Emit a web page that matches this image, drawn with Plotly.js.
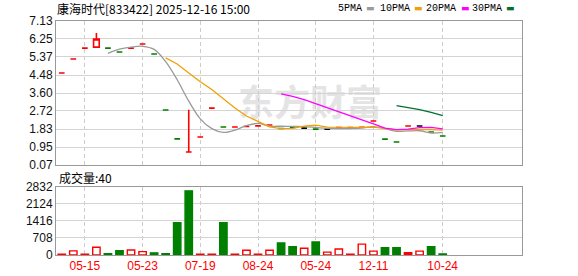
<!DOCTYPE html>
<html><head><meta charset="utf-8">
<script src="https://cdn.plot.ly/plotly-3.0.1.min.js"></script>
<style>html,body{margin:0;padding:0;background:#fff}#chart{width:578px;height:276px}</style>
</head><body><div id="chart"></div>
<script>
// ---------------- data ----------------
const titleText = '康海时代[833422] 2025-12-16 15:00';
const tickIdx = [2, 7, 12, 17, 22, 27, 33];
const tickLabels = ['05-15', '05-23', '07-19', '08-24', '05-24', '12-11', '10-24'];
const priceTickLabels = ['0.07', '0.95', '1.83', '2.72', '3.60', '4.48', '5.37', '6.25', '7.13'];
const volTickLabels = ['0', '708', '1416', '2124', '2832'];

const openP  = [4.58,5.27,5.80,5.85,5.80,5.61,5.80,6.00,5.51,2.77,1.35,0.71,1.44,2.86,1.93,1.93,1.96,1.99,2.03,1.86,1.91,1.88,1.83,1.83,1.91,1.91,1.92,2.23,1.34,1.20,1.98,1.98,1.69,1.49];
const highP  = [4.58,5.27,5.80,6.54,5.80,5.61,5.80,6.00,5.51,2.77,1.35,2.78,1.44,2.86,1.93,1.93,1.96,1.99,2.03,1.86,1.91,1.88,1.83,1.83,1.91,1.91,1.92,2.23,1.34,1.20,1.98,1.98,1.69,1.49];
const lowP   = [4.58,5.27,5.80,5.85,5.80,5.61,5.80,6.00,5.51,2.77,1.35,0.71,1.44,2.86,1.93,1.93,1.96,1.99,2.03,1.86,1.91,1.88,1.83,1.83,1.91,1.91,1.92,2.23,1.34,1.20,1.98,1.98,1.69,1.49];
const closeP = [4.58,5.27,5.80,6.25,5.80,5.61,5.80,6.00,5.51,2.77,1.35,0.71,1.44,2.86,1.93,1.93,1.96,1.99,2.03,1.86,1.91,1.88,1.83,1.83,1.91,1.91,1.92,2.23,1.34,1.20,1.98,1.98,1.69,1.49];
// u = up (red), d = down (green), f = flat (black)
const candleDir = ['u','u','u','u','d','d','u','u','d','d','d','u','u','u','d','u','u','u','u','d','d','f','d','f','u','u','u','u','d','d','u','f','d','d'];

const ma5  = [null,null,null,null,5.54,5.75,5.85,5.89,5.74,5.14,4.25,3.20,2.33,1.85,1.67,1.78,2.00,2.11,1.98,1.97,1.96,1.95,1.91,1.87,1.86,1.86,1.88,1.95,1.86,1.72,1.74,1.75,1.64,1.67];
const ma10 = [null,null,null,null,null,null,null,null,null,5.32,5.02,4.58,4.15,3.77,3.30,2.86,2.47,2.22,1.94,1.85,1.87,1.98,2.02,1.93,1.92,1.91,1.91,1.93,1.87,1.79,1.80,1.81,1.80,1.78];
const ma20 = [null,null,null,null,null,null,null,null,null,null,null,null,null,null,null,null,null,null,null,3.56,3.44,3.27,3.07,2.85,2.66,2.47,2.28,2.09,1.88,1.80,1.83,1.90,1.91,1.84];
const ma30 = [null,null,null,null,null,null,null,null,null,null,null,null,null,null,null,null,null,null,null,null,null,null,null,null,null,null,null,null,null,2.98,2.89,2.79,2.65,2.49];

const volume = [35,170,35,320,50,180,210,140,90,50,1340,2660,35,35,1340,35,200,35,200,500,340,280,540,120,250,35,450,160,300,300,95,160,340,40];
// h = hollow red, g = green, r = filled red
const volKind = ['h','h','h','h','g','g','h','h','g','g','g','g','h','h','g','h','h','h','h','g','g','h','g','h','h','h','h','h','g','g','r','h','g','g'];

// ---------------- styles ----------------
const RED = '#ff0000', GREEN = '#008000', BLACK = '#000000';
const W = 578, H = 276, ML = 56, MR = 56, MT = 21, MB = 21;
const PW = W - ML - MR, PH = H - MT - MB;
const px = x => (x - ML) / PW;
const py = y => (H - MB - y) / PH;

const xs = closeP.map((_, i) => i);
const pick = (arr, d) => arr.map((v, i) => candleDir[i] === d ? v : null);

function candle(d, col, fill) {
  return {
    type: 'candlestick', x: xs,
    open: pick(openP, d), high: pick(highP, d), low: pick(lowP, d), close: pick(closeP, d),
    increasing: {line: {color: col, width: 1.6}, fillcolor: fill},
    decreasing: {line: {color: col, width: 1.6}, fillcolor: fill},
    whiskerwidth: 0, xaxis: 'x2', yaxis: 'y', hoverinfo: 'skip', showlegend: false
  };
}
function maLine(y, col, shape) {
  return {type: 'scatter', mode: 'lines', x: xs, y: y, xaxis: 'x2', yaxis: 'y',
    line: {color: col, width: 1.3, shape: shape}, hoverinfo: 'skip', showlegend: false};
}

const volFill = volKind.map(k => k === 'g' ? GREEN : (k === 'r' ? RED : '#ffffff'));
const volLine = volKind.map(k => k === 'g' ? GREEN : RED);

const traces = [
  candle('u', RED, '#ffffff'),
  candle('d', GREEN, GREEN),
  candle('f', BLACK, BLACK),
  maLine(ma5, '#9a9a9a', 'spline'),
  maLine(ma10, '#f0a000', 'linear'),
  maLine(ma20, '#ff00ff', 'linear'),
  maLine(ma30, '#006f30', 'linear'),
  {type: 'bar', x: xs, y: volume, width: 0.64, xaxis: 'x', yaxis: 'y2',
   marker: {color: volFill, line: {color: volLine, width: 1.4}}, hoverinfo: 'skip', showlegend: false}
];

const xr = [-0.5, 39.87];
const gridX = {showgrid: true, gridcolor: '#cccccc', griddash: '4px,3px', gridwidth: 1};
const frame = {showline: true, mirror: true, linecolor: '#999999', linewidth: 1, zeroline: false, ticks: '', fixedrange: true};
const mainBottom = 165, volTop = 186.7;

const legendItems = [
  {t: '5PMA', x: 338, m: 364.5, c: '#9a9a9a'},
  {t: '10PMA', x: 380, m: 412.5, c: '#f0a000'},
  {t: '20PMA', x: 425.5, m: 459.5, c: '#ff00ff'},
  {t: '30PMA', x: 472, m: 504.5, c: '#006f30'}
];

const annotations = [
  {text: titleText, xref: 'paper', yref: 'paper', x: px(55), y: py(8.5), xanchor: 'left', yanchor: 'middle',
   showarrow: false, font: {family: 'Noto Sans CJK SC', size: 12, color: '#000'}},
  {text: '成交量:' + volume[volume.length - 1], xref: 'paper', yref: 'paper', x: px(57), y: py(177.5),
   xanchor: 'left', yanchor: 'middle', showarrow: false, font: {family: 'Noto Sans CJK SC', size: 12, color: '#000'}}
].concat(legendItems.map(it => ({
  text: it.t, xref: 'paper', yref: 'paper', x: px(it.x - 1), y: py(8.5), xanchor: 'left', yanchor: 'middle',
  showarrow: false, borderpad: 0, font: {family: 'Liberation Mono', size: 10, color: '#000'}
}))).concat(legendItems.map(it => ({
  text: '▬', xref: 'paper', yref: 'paper', x: px(it.m), y: py(8.5), xanchor: 'left', yanchor: 'middle',
  showarrow: false, borderpad: 0, font: {family: 'DejaVu Sans', size: 9, color: it.c}
})));

const shapes = [{
  type: 'rect', xref: 'paper', yref: 'paper', x0: px(235), x1: px(385), y0: py(124), y1: py(87),
  line: {width: 0}, fillcolor: 'rgba(0,0,0,0)', layer: 'below',
  label: {text: '东方财富', textposition: 'middle center', yanchor: 'middle',
          font: {family: 'Noto Sans CJK SC', size: 36, weight: 'bold', color: '#e4e4e4'}}
}];

const layout = {
  width: W, height: H, margin: {l: ML, r: MR, t: MT, b: MB, pad: 0},
  paper_bgcolor: '#fff', plot_bgcolor: '#fff', showlegend: false, dragmode: false,
  font: {family: 'Liberation Sans, Arial, sans-serif', size: 12, color: '#000'},
  xaxis: Object.assign({domain: [0, 1], anchor: 'y2', range: xr, tickmode: 'array', tickvals: tickIdx, ticktext: tickLabels,
    tickfont: {color: RED, size: 12, family: 'Liberation Sans, Arial'}}, gridX, frame),
  xaxis2: Object.assign({domain: [0, 1], anchor: 'y', matches: 'x', range: xr, tickmode: 'array', tickvals: tickIdx,
    showticklabels: false, rangeslider: {visible: false}}, gridX, frame),
  yaxis: Object.assign({domain: [py(mainBottom), 1], range: [0.07, 7.13], tickmode: 'array',
    tickvals: priceTickLabels.map(Number), ticktext: priceTickLabels, showgrid: true, gridcolor: '#d4d4d4', gridwidth: 1,
    tickfont: {size: 12, color: '#111'}}, frame),
  yaxis2: Object.assign({domain: [0, py(volTop)], range: [0, 2832], tickmode: 'array',
    tickvals: volTickLabels.map(Number), ticktext: volTickLabels, showgrid: true, gridcolor: '#d4d4d4', gridwidth: 1,
    tickfont: {size: 12, color: '#111'}}, frame),
  annotations: annotations,
  shapes: shapes
};

Plotly.newPlot('chart', traces, layout, {displayModeBar: false, staticPlot: true});
</script>
</body></html>
